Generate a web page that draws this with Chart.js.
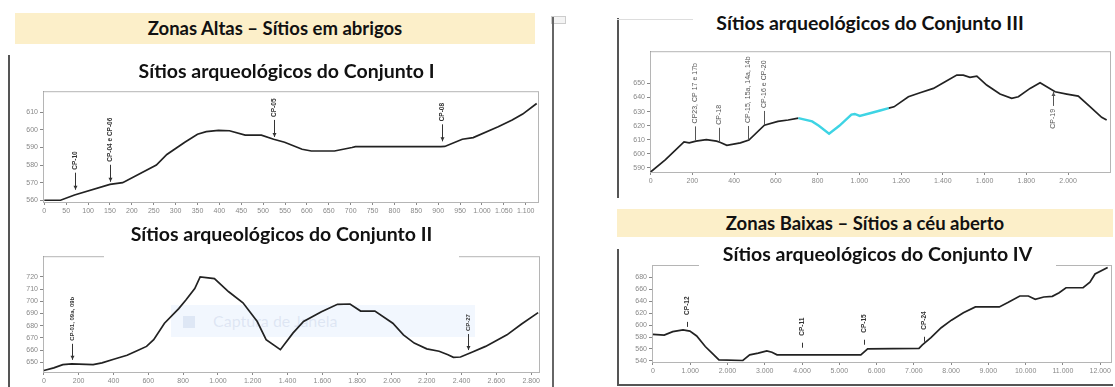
<!DOCTYPE html>
<html>
<head>
<meta charset="utf-8">
<script src="https://cdn.jsdelivr.net/npm/chart.js@4/dist/chart.umd.min.js"></script>
<style>
  body { margin: 0; width: 1115px; height: 387px; position: relative; overflow: hidden; background: #fff; font-family: Lato, "Liberation Sans", sans-serif; }
  .abs { position: absolute; }
  .band { background: #fcefc9; font-weight: bold; font-size: 18.5px; text-align: center; color: #111; }
  .title { background: #fff; font-weight: bold; font-size: 19.5px; text-align: center; color: #111; line-height: 22px; z-index: 2; }
  .vline { background: #555; width: 1.5px; }
  .hline { background: #555; height: 1.5px; }
  canvas { position: absolute; z-index: 1; }
  .snap { background: rgba(232,240,253,0.55); z-index: 0; color: rgba(160,175,210,0.25); font-size: 16px; line-height: 32px; }
</style>
</head>
<body>
<div class="abs band" style="left:15px;top:13px;width:520px;height:31px;line-height:31px">Zonas Altas – Sítios em abrigos</div>
<div class="abs vline" style="left:8px;top:55px;height:332px"></div>
<div class="abs" style="left:551px;top:16px;width:13px;height:6px;border:1px solid #ccc;background:#f4f4f4"></div>
<div class="abs vline" style="left:552px;top:17px;height:370px;background:#666"></div>

<canvas id="c1" width="535" height="135" style="left:10px;top:85px"></canvas>
<div class="abs title" style="left:107px;top:60px;width:359px;height:31px">Sítios arqueológicos do Conjunto I</div>

<div class="abs snap" style="left:171px;top:305px;width:304px;height:32px"><span style="display:inline-block;width:12px;height:12px;background:rgba(165,182,218,0.25);margin:0 18px 0 12px;vertical-align:-1px"></span>Captura de Janela</div>
<canvas id="c2" width="535" height="137" style="left:10px;top:250px"></canvas>
<div class="abs title" style="left:104px;top:223px;width:355px;height:35px">Sítios arqueológicos do Conjunto II</div>

<div class="abs vline" style="left:617px;top:18px;height:180px"></div>
<div class="abs" style="left:617px;top:19px;width:76px;height:1px;background:#ddd"></div>
<div class="abs title" style="left:680px;top:12px;width:380px;height:22px;background:transparent">Sítios arqueológicos do Conjunto III</div>
<canvas id="c3" width="495" height="145" style="left:620px;top:45px"></canvas>

<div class="abs band" style="left:617px;top:209px;width:496px;height:28px;line-height:28px">Zonas Baixas – Sítios a céu aberto</div>

<div class="abs vline" style="left:617px;top:249px;height:137px"></div>
<div class="abs hline" style="left:617px;top:384px;width:496px"></div>
<canvas id="c4" width="495" height="122" style="left:620px;top:258px"></canvas>
<div class="abs title" style="left:699px;top:243px;width:357px;height:25px">Sítios arqueológicos do Conjunto IV</div>

<script>
// Conjunto I profile (distance m, altitude m)
const c1X = [0, 37, 69, 150, 179, 256, 280, 321, 350, 370, 398, 423, 459, 496, 524, 549, 589, 610, 663, 703, 711, 906, 915, 955, 980, 1037, 1069, 1093, 1125];
const c1Y = [560, 560, 563, 569, 570, 580, 586, 593, 597.5, 599, 599.7, 599.5, 597, 597, 594.7, 593, 589, 588, 588, 590, 590.5, 590.5, 590.6, 594.7, 595.6, 601.8, 605.6, 609, 615];
const c1XTicks = [0, 50, 100, 150, 200, 250, 300, 350, 400, 450, 500, 550, 600, 650, 700, 750, 800, 850, 900, 950, 1000, 1050, 1100];
const c1YTicks = [560, 570, 580, 590, 600, 610];
const c1MarkX = [69, 150, 524, 909];
const c1MarkY = [566, 570.5, 596, 593.5];
const c1MarkLabels = ['CP-10', 'CP-04 e CP-06', 'CP-05', 'CP-08'];

// Conjunto II
const c2X = [0, 57, 109, 160, 283, 334, 406, 478, 529, 590, 631, 693, 775, 816, 867, 898, 980, 1062, 1144, 1226, 1277, 1359, 1431, 1492, 1595, 1687, 1759, 1820, 1902, 2005, 2066, 2128, 2200, 2271, 2322, 2353, 2394, 2456, 2538, 2661, 2743, 2840];
const c2Y = [643.2, 645.4, 648, 648.6, 648, 649.5, 652.7, 655.7, 659, 663, 668.5, 682, 694, 701, 710.5, 720, 718.6, 707.8, 698.8, 683.4, 668.5, 660.3, 673.9, 683.4, 691.5, 697.5, 697.8, 692, 692, 682, 672.5, 665.7, 661, 659, 656.2, 654, 654.3, 658, 663, 672.5, 681.2, 690.7];
const c2XTicks = [0, 200, 400, 600, 800, 1000, 1200, 1400, 1600, 1800, 2000, 2200, 2400, 2600, 2800];
const c2YTicks = [650, 660, 670, 680, 690, 700, 710, 720];
const c2MarkX = [160, 2435];
const c2MarkY = [652, 660];
const c2MarkLabels = ['CP-01, 09a, 09b', 'CP-27'];

// Conjunto III (cyan stretch between c3HiFrom and c3HiTo)
const c3X = [0, 70, 160, 185, 217, 267, 316, 332, 365, 430, 471, 545, 610, 659, 708, 774, 806, 855, 904, 962, 978, 1002, 1051, 1100, 1141, 1166, 1235, 1291, 1355, 1411, 1467, 1498, 1530, 1563, 1610, 1674, 1730, 1762, 1818, 1866, 1898, 1938, 1994, 2049, 2105, 2161, 2185];
const c3Y = [587, 595.6, 608.4, 607.7, 609, 610.1, 609, 608.2, 606, 607.7, 609.7, 620.3, 623, 624, 625.4, 623, 619.9, 614.3, 619.9, 627.9, 628.3, 626.9, 628.8, 630.8, 632.5, 633.4, 640.6, 643.4, 646.5, 651.2, 656, 656, 654.4, 655.3, 648.9, 642.5, 639.4, 640.6, 646.5, 650.5, 647.7, 644.1, 642.5, 641, 633.5, 625.9, 624];
const c3HiFrom = 708;
const c3HiTo = 1141;
const c3XTicks = [0, 200, 400, 600, 800, 1000, 1200, 1400, 1600, 1800, 2000];
const c3YTicks = [590, 600, 610, 620, 630, 640, 650];
const c3MarkX = [213, 328, 467, 543, 1929];
const c3MarkY = [609.5, 608.5, 609.8, 620.5, 644];
const c3MarkLabels = ['CP23, CP 17 e 17b', 'CP-18', 'CP-15, 15a, 14a, 14b', 'CP-16 e CP-20', 'CP-19'];

// Conjunto IV
const c4X = [0, 303, 532, 807, 991, 1174, 1404, 1587, 1771, 2413, 2596, 2826, 3055, 3193, 3330, 5578, 5761, 7138, 7229, 7459, 7734, 8009, 8330, 8651, 9294, 9523, 9844, 10073, 10257, 10486, 10716, 10899, 11083, 11541, 11725, 11862, 12200];
const c4Y = [584.4, 583.3, 589, 592, 590, 581.7, 564, 552.8, 541.7, 540.5, 550, 552.8, 556.7, 554.4, 550, 550, 560, 561, 566.7, 579, 595.6, 608.3, 620.6, 630.6, 630.6, 637.8, 648.9, 648.9, 643.3, 647.2, 648.3, 654.4, 662.8, 662.8, 672.2, 686, 697];
const c4XTicks = [0, 1000, 2000, 3000, 4000, 5000, 6000, 7000, 8000, 9000, 10000, 11000, 12000];
const c4YTicks = [540, 560, 580, 600, 620, 640, 660, 680];
const c4MarkX = [917, 4000, 5651, 7275];
const c4MarkY = [597, 562, 567, 572];
const c4MarkLabels = ['CP-12', 'CP-11', 'CP-15', 'CP-24'];

const fmt = v => String(v).replace(/\B(?=(\d{3})+(?!\d))/g, '.');
const tickFont = { family: 'Liberation Sans', size: 7 };

const framePlugin = {
  id: 'frame',
  beforeDatasetsDraw(chart) {
    const { ctx, chartArea: a } = chart;
    ctx.save();
    ctx.strokeStyle = '#b5b5b5';
    ctx.lineWidth = 1;
    ctx.strokeRect(a.left + 0.5, a.top + 0.5, a.right - a.left, a.bottom - a.top);
    ctx.restore();
  }
};

// vertical labels with a pointer line down (or up) to the profile
function markerPlugin(m) {
  return {
    id: 'markers',
    afterDatasetsDraw(chart) {
      const { ctx, scales } = chart;
      ctx.save();
      ctx.strokeStyle = m.color;
      ctx.fillStyle = m.color;
      ctx.lineWidth = 1;
      ctx.font = m.font;
      m.xs.forEach((xv, i) => {
        const px = Math.round(scales.x.getPixelForValue(xv)) + 0.5;
        const py = scales.y.getPixelForValue(m.ys[i]);
        const below = (m.below || []).includes(m.labels[i]);
        const dir = below ? 1 : -1;
        const end = py + dir * m.len;
        ctx.beginPath();
        ctx.moveTo(px, py);
        ctx.lineTo(px, end);
        ctx.stroke();
        if (m.arrow === 'all' || (m.arrow === 'below' && below)) {
          ctx.beginPath();
          ctx.moveTo(px, py);
          ctx.lineTo(px - 2, py + dir * 4);
          ctx.lineTo(px + 2, py + dir * 4);
          ctx.closePath();
          ctx.fill();
        }
        ctx.save();
        ctx.translate(px, end + dir * m.gap);
        ctx.rotate(-Math.PI / 2);
        ctx.textAlign = below ? 'right' : 'left';
        ctx.textBaseline = 'middle';
        ctx.fillText(m.labels[i], 0, 0);
        ctx.restore();
      });
      ctx.restore();
    }
  };
}

function axis(ticks, min, max, fit) {
  return {
    type: 'linear',
    min: min,
    max: max,
    afterBuildTicks: a => { a.ticks = ticks.map(value => ({ value })); },
    afterFit: fit,
    ticks: { callback: v => fmt(v), autoSkip: false, maxRotation: 0, font: tickFont, color: '#888', padding: 2 },
    grid: { drawOnChartArea: false, tickLength: 3, color: '#888' },
    border: { color: '#555' }
  };
}

function profile(id, c) {
  new Chart(document.getElementById(id), {
    type: 'line',
    data: {
      datasets: [{
        data: c.xs.map((x, i) => ({ x, y: c.ys[i] })),
        borderColor: '#222',
        borderWidth: 1.7,
        pointRadius: 0,
        tension: 0,
        segment: c.segment
      }]
    },
    options: {
      responsive: false,
      animation: false,
      events: [],
      layout: { padding: c.pad },
      plugins: { legend: { display: false }, tooltip: { enabled: false } },
      scales: {
        x: axis(c.xTicks, c.xMin, c.xMax, s => { s.height = c.xH; }),
        y: axis(c.yTicks, c.yMin, c.yMax, s => { s.width = c.yW; })
      }
    },
    plugins: [framePlugin, markerPlugin(c.markers)]
  });
}

profile('c1', {
  xs: c1X, ys: c1Y, xTicks: c1XTicks, yTicks: c1YTicks,
  xMin: -3, xMax: 1128, yMin: 559, yMax: 622,
  yW: 33, xH: 18, pad: { top: 4, right: 7, left: 0, bottom: 0 },
  markers: { xs: c1MarkX, ys: c1MarkY, labels: c1MarkLabels, len: 17, gap: 3, arrow: 'all', color: '#333', font: 'bold 6.5px "Liberation Sans"' }
});

profile('c2', {
  xs: c2X, ys: c2Y, xTicks: c2XTicks, yTicks: c2YTicks,
  xMin: -5, xMax: 2845, yMin: 642, yMax: 737,
  yW: 33, xH: 15, pad: { top: 5, right: 6, left: 0, bottom: 0 },
  markers: { xs: c2MarkX, ys: c2MarkY, labels: c2MarkLabels, len: 16, gap: 3, arrow: 'all', color: '#333', font: 'bold 6px "Liberation Sans"' }
});

profile('c3', {
  xs: c3X, ys: c3Y, xTicks: c3XTicks, yTicks: c3YTicks,
  xMin: -3, xMax: 2201, yMin: 587, yMax: 673,
  yW: 30, xH: 18, pad: { top: 6, right: 5, left: 0, bottom: 0 },
  segment: {
    borderColor: s => (s.p0.parsed.x >= c3HiFrom && s.p1.parsed.x <= c3HiTo) ? '#3ed4e4' : undefined,
    borderWidth: s => (s.p0.parsed.x >= c3HiFrom && s.p1.parsed.x <= c3HiTo) ? 2.4 : undefined
  },
  markers: { xs: c3MarkX, ys: c3MarkY, labels: c3MarkLabels, below: ['CP-19'], len: 14, gap: 3, arrow: 'below', color: '#555', font: '7px "Liberation Sans"' }
});

profile('c4', {
  xs: c4X, ys: c4Y, xTicks: c4XTicks, yTicks: c4YTicks,
  xMin: -25, xMax: 12290, yMin: 538, yMax: 701,
  yW: 32, xH: 18, pad: { top: 7, right: 4, left: 0, bottom: 0 },
  markers: { xs: c4MarkX, ys: c4MarkY, labels: c4MarkLabels, len: 5, gap: 7, arrow: 'none', color: '#333', font: 'bold 6.5px "Liberation Sans"' }
});
</script>
</body>
</html>
